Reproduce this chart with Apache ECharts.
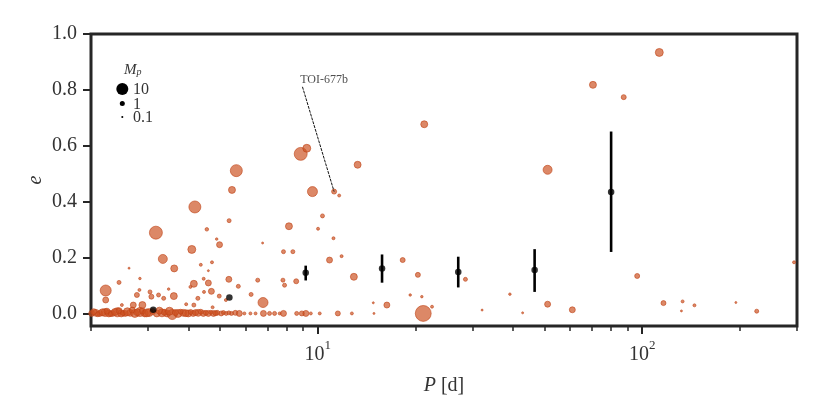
<!DOCTYPE html>
<html>
<head>
<meta charset="utf-8">
<script src="https://cdn.jsdelivr.net/npm/echarts@6/dist/echarts.min.js"></script>
<style>
  html, body { margin: 0; padding: 0; background: #fff; }
  #chart { width: 830px; height: 415px; }
</style>
</head>
<body>
<div id="chart"></div>
<script>
// orbital period [d], eccentricity, planet mass [M_J]
var periods = [
  2.01, 2.07, 2.13, 2.21, 2.27, 2.33, 2.41, 2.48, 2.55, 2.64, 2.73, 2.83, 2.93, 3.02, 3.19, 3.31,
  3.43, 3.56, 3.71, 3.85, 3.99, 4.13, 4.28, 4.44, 4.60, 4.77, 4.90, 5.04, 5.22, 5.42, 5.57, 5.73,
  5.94, 6.20, 6.43, 6.80, 7.10, 7.36, 7.63, 7.84, 8.61, 8.93, 9.19, 9.52, 10.14, 11.53, 12.74, 14.90,
  21.14,
  4.09, 4.98, 6.76, 3.33, 3.61, 2.62, 4.36, 4.72, 4.60, 2.44, 2.83, 3.47, 2.22, 2.22, 4.15, 4.45,
  4.60, 4.70, 5.32, 5.69, 6.23, 6.53, 6.78, 7.81, 7.84, 8.38, 2.77, 2.82, 3.04, 3.07, 3.23, 3.35,
  3.60, 4.05, 3.93, 4.27, 4.46, 4.15, 2.70, 2.88, 2.49, 4.97, 5.21, 4.74, 7.90, 8.58, 10.87, 11.84,
  12.92, 18.27, 20.35, 19.27, 20.93, 14.83, 16.33, 22.5, 28.52, 32.1, 39.1, 42.8, 51.1, 60.9, 96.5, 116.3,
  133.2, 132.1, 144.9, 194.4, 225.4, 293.8, 112.9, 70.5, 87.7, 21.29, 51.1, 5.61, 5.44, 4.18, 5.33, 4.55,
  3.17, 4.88, 8.86, 9.25, 13.27, 9.63, 11.23, 11.64, 8.15, 10.34, 10.02, 11.18,
  2.04, 2.10, 2.17, 2.24, 2.30, 2.37, 2.44, 2.51, 2.59, 2.68, 2.78, 2.88, 2.97, 3.10, 3.25, 3.37,
  3.49, 3.64, 3.78, 3.92, 4.06, 4.20, 4.36, 4.52, 4.68, 4.84, 5.12, 5.32
];
var eccs = [
  0.000, 0.002, 0.000, 0.003, 0.000, 0.000, 0.004, 0.000, 0.000, 0.002, 0.000, 0.005, 0.000, 0.003, 0.000, 0.002,
  0.000, -0.004, 0.000, 0.002, 0.000, 0.000, 0.002, 0.000, 0.000, 0.000, 0.002, 0.000, 0.000, 0.000, 0.002, 0.000,
  0.000, 0.000, 0.000, 0.000, 0.000, 0.000, 0.000, 0.000, 0.000, 0.000, 0.000, 0.000, 0.000, 0.000, 0.000, 0.000,
  0.000,
  0.229, 0.246, 0.252, 0.195, 0.161, 0.162, 0.174, 0.183, 0.153, 0.111, 0.125, 0.087, 0.082, 0.048, 0.106, 0.124,
  0.109, 0.079, 0.122, 0.097, 0.068, 0.119, 0.039, 0.119, 0.221, 0.221, 0.066, 0.084, 0.077, 0.060, 0.066, 0.054,
  0.062, 0.095, 0.033, 0.054, 0.077, 0.030, 0.030, 0.030, 0.030, 0.062, 0.048, 0.022, 0.101, 0.115, 0.191, 0.205,
  0.131, 0.191, 0.138, 0.066, 0.060, 0.038, 0.030, 0.024, 0.122, 0.012, 0.069, 0.002, 0.033, 0.013, 0.134, 0.037,
  0.043, 0.009, 0.029, 0.039, 0.008, 0.183, 0.934, 0.818, 0.774, 0.677, 0.514, 0.511, 0.442, 0.381, 0.332, 0.301,
  0.289, 0.266, 0.571, 0.591, 0.532, 0.436, 0.436, 0.422, 0.312, 0.349, 0.303, 0.269,
  0.006, -0.003, 0.004, 0.008, -0.002, 0.005, 0.010, 0.001, 0.006, 0.012, 0.004, 0.009, 0.002, 0.007, 0.010, 0.004,
  0.008, 0.003, 0.006, 0.001, 0.005, 0.003, 0.006, 0.002, 0.004, 0.001, 0.003, 0.002
];
var masses = [
  1.6, 2.4, 1.6, 3.4, 2.4, 1.6, 4.7, 2.4, 1.6, 2.4, 3.4, 4.7, 2.4, 3.4, 2.4, 3.4,
  2.4, 6.2, 3.4, 2.4, 2.4, 1.6, 2.4, 1.6, 1.6, 1.6, 1.0, 1.0, 0.56, 0.56, 1.0, 1.6,
  0.26, 0.26, 0.26, 1.6, 0.56, 0.56, 0.26, 1.6, 0.56, 1.0, 1.6, 0.26, 0.26, 1.0, 0.26, 0.09,
  21,
  3.4, 1.6, 0.09, 4.7, 2.4, 0.09, 0.26, 0.26, 0.09, 0.56, 0.16, 0.16, 8.0, 1.6, 2.4, 0.26,
  1.6, 1.6, 1.6, 0.56, 0.56, 0.56, 6.2, 0.56, 0.56, 0.56, 1.0, 0.26, 0.56, 1.0, 0.56, 0.56,
  2.4, 0.26, 0.26, 0.56, 0.26, 0.56, 1.6, 2.4, 0.26, 0.56, 0.26, 0.26, 0.56, 1.0, 1.6, 0.26,
  2.4, 1.0, 1.0, 0.16, 0.16, 0.09, 1.6, 0.26, 0.56, 0.09, 0.16, 0.09, 1.6, 1.6, 1.0, 1.0,
  0.26, 0.09, 0.26, 0.09, 0.56, 0.26, 3.4, 2.4, 1.0, 2.4, 4.7, 10, 2.4, 10, 0.56, 0.4,
  12.3, 0.16, 12.3, 3.4, 2.4, 6.2, 1.0, 0.26, 2.4, 0.56, 0.26, 0.26,
  1.6, 1.0, 2.4, 1.6, 1.0, 2.4, 1.6, 1.0, 3.4, 1.6, 2.4, 1.6, 3.4, 1.6, 2.4, 1.6,
  3.4, 1.6, 1.0, 2.4, 1.0, 1.6, 1.0, 1.0, 0.56, 1.0, 0.56, 0.56
];

// binned mean eccentricity with spread
var binP = [3.11, 5.34, 9.18, 15.78, 27.1, 46.6, 80.2];
var binE = [0.013, 0.057, 0.146, 0.161, 0.148, 0.155, 0.435];
var binLo = [0.013, 0.057, 0.118, 0.110, 0.093, 0.077, 0.220];
var binHi = [0.013, 0.057, 0.171, 0.211, 0.203, 0.230, 0.651];

// TOI-677b annotation: label anchor and target
var toiLabel = [8.80, 0.836];
var toiLine = [[8.97, 0.811], [11.23, 0.436]];

var minorTicks = [2, 3, 4, 5, 6, 7, 8, 9, 20, 30, 40, 50, 60, 70, 80, 90, 200, 300];
var majorTicks = [10, 100];
var yTicks = [0, 0.2, 0.4, 0.6, 0.8, 1.0];
var legendMasses = [10, 1, 0.1];

var font = 'Liberation Serif';
var ink = '#262626';
var txt = '#333';

function massToSize(m) {
  return 5 * Math.pow(m, 0.38);
}

var planets = periods.map(function (p, i) { return [p, eccs[i], masses[i]]; });
var bins = binP.map(function (p, i) { return [p, binE[i]]; });
var bars = binP.map(function (p, i) { return [p, binLo[i], binHi[i]]; });

var chart = echarts.init(document.getElementById('chart'));

var legendEls = [
  {
    type: 'text', x: 124, y: 70,
    style: {
      text: '{m|M}{p|p}', verticalAlign: 'middle',
      rich: {
        m: { fontFamily: font, fontStyle: 'italic', fontSize: 15, fill: txt, color: txt },
        p: { fontFamily: font, fontStyle: 'italic', fontSize: 10, fill: txt, color: txt, verticalAlign: 'bottom', lineHeight: 10, padding: [6, 0, 0, 0] }
      }
    }
  }
];
var legendY = [89, 103.5, 117];
legendMasses.forEach(function (m, i) {
  legendEls.push({
    type: 'circle',
    shape: { cx: 122.3, cy: legendY[i], r: massToSize(m) / 2 },
    style: { fill: '#000' }
  });
  legendEls.push({
    type: 'text', x: 133, y: legendY[i] + 1,
    style: { text: String(m), fontFamily: font, fontSize: 16, fill: txt, verticalAlign: 'middle' }
  });
});

chart.setOption({
  animation: false,
  backgroundColor: '#fff',
  grid: {
    left: 91, right: 33, top: 34, bottom: 89,
    show: true, borderColor: ink, borderWidth: 3, backgroundColor: 'transparent'
  },
  xAxis: [
    {
      type: 'log', logBase: 10, min: 2, max: 300, position: 'bottom',
      axisLine: { show: false }, axisTick: { show: false },
      axisLabel: { show: false }, splitLine: { show: false }
    },
    {
      type: 'value', min: Math.log10(2), max: Math.log10(300), position: 'bottom',
      axisLine: { show: false },
      axisTick: {
        show: true, length: 5, customValues: minorTicks.map(Math.log10),
        lineStyle: { color: ink, width: 1.5 }
      },
      axisLabel: { show: false }, splitLine: { show: false }
    },
    {
      type: 'value', min: Math.log10(2), max: Math.log10(300), position: 'bottom',
      axisLine: { show: false },
      axisTick: {
        show: true, length: 8, customValues: majorTicks.map(Math.log10),
        lineStyle: { color: ink, width: 2 }
      },
      axisLabel: {
        customValues: majorTicks.map(Math.log10), margin: 13,
        formatter: function (v) { return '{b|10}{s|' + Math.round(v) + '}'; },
        rich: {
          b: { fontFamily: font, fontSize: 20, color: txt, lineHeight: 26, verticalAlign: 'bottom' },
          s: { fontFamily: font, fontSize: 13, color: txt, lineHeight: 13, verticalAlign: 'top' }
        }
      },
      splitLine: { show: false },
      name: '{i|P} [d]', nameLocation: 'middle', nameGap: 50,
      nameTextStyle: {
        fontFamily: font, fontSize: 20, color: txt,
        rich: { i: { fontFamily: font, fontSize: 20, fontStyle: 'italic', color: txt } }
      }
    }
  ],
  yAxis: {
    type: 'value', min: -0.045, max: 1.0, position: 'left',
    axisLine: { show: false },
    axisTick: { show: true, length: 8, customValues: yTicks, lineStyle: { color: ink, width: 2 } },
    axisLabel: {
      customValues: yTicks, margin: 14, fontFamily: font, fontSize: 20, color: txt,
      formatter: function (v) { return v.toFixed(1); }
    },
    splitLine: { show: false },
    name: 'e', nameLocation: 'middle', nameGap: 45, nameMoveOverlap: false,
    nameTextStyle: { fontFamily: font, fontSize: 20, fontStyle: 'italic', color: txt }
  },
  graphic: legendEls,
  series: [
    {
      type: 'scatter', xAxisIndex: 0, data: planets,
      symbolSize: function (val) { return massToSize(val[2]); },
      itemStyle: { color: 'rgba(204,80,32,0.85)', borderColor: 'rgba(190,66,22,0.95)', borderWidth: 0.8 },
      z: 2
    },
    {
      type: 'line', xAxisIndex: 0, data: toiLine, symbol: 'none',
      lineStyle: { color: '#111', width: 1, type: [3, 1] }, z: 3
    },
    {
      type: 'scatter', xAxisIndex: 0, data: [toiLabel], symbolSize: 1,
      itemStyle: { color: 'transparent' },
      label: {
        show: true, position: 'right', distance: 0, formatter: 'TOI-677b',
        fontFamily: font, fontSize: 12, color: '#222'
      },
      z: 3
    },
    {
      type: 'custom', xAxisIndex: 0, data: bars,
      encode: { x: 0, y: [1, 2] },
      renderItem: function (params, api) {
        var a = api.coord([api.value(0), api.value(1)]);
        var b = api.coord([api.value(0), api.value(2)]);
        return {
          type: 'line',
          shape: { x1: a[0], y1: a[1], x2: b[0], y2: b[1] },
          style: { stroke: '#000', lineWidth: 2.6 }
        };
      },
      z: 4
    },
    {
      type: 'scatter', xAxisIndex: 0, data: bins, symbolSize: 6.5,
      itemStyle: { color: '#000' }, z: 5
    }
  ]
});
</script>
</body>
</html>
